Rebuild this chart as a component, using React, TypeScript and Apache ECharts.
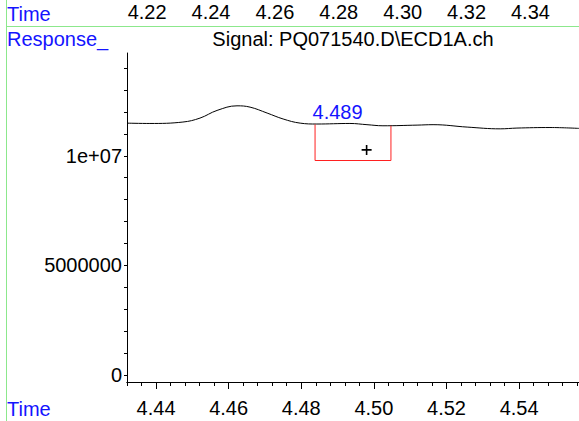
import React, { useEffect, useRef } from 'react';
import * as echarts from 'echarts';

// Signal trace (time in min, response)
const timeValues = [4.432, 4.4383, 4.4474, 4.4521, 4.4568, 4.4623, 4.4659, 4.4706, 4.475, 4.4797, 4.4843, 4.4934, 4.4981, 4.5025, 4.5119, 4.5163, 4.5257, 4.5348, 4.5394, 4.5485, 4.5565];
const responseValues = [11.49e6, 11.475e6, 11.54e6, 11.72e6, 12.07e6, 12.28e6, 12.22e6, 11.95e6, 11.68e6, 11.49e6, 11.45e6, 11.475e6, 11.42e6, 11.37e6, 11.4e6, 11.42e6, 11.31e6, 11.23e6, 11.265e6, 11.29e6, 11.25e6];

// Integration bracket (red)
const bracketTimes = [4.4838, 4.4838, 4.5047, 4.5047];
const bracketValues = [11.43e6, 9.785e6, 9.785e6, 11.37e6];

// Peak annotation
const peakLabelTime = [4.49];
const peakLabelValue = [11.99e6];
const peakLabelText = ['4.489'];
const crossTime = [4.498];
const crossValue = [10.27e6];

// Axes
const bottomTickValues = [4.44, 4.46, 4.48, 4.5, 4.52, 4.54];
const bottomTickLabels = ['4.44', '4.46', '4.48', '4.50', '4.52', '4.54'];
const topTickValues = [4.22, 4.24, 4.26, 4.28, 4.3, 4.32, 4.34];
const topTickLabels = ['4.22', '4.24', '4.26', '4.28', '4.30', '4.32', '4.34'];
const yTickValues = [0, 5e6, 1e7];
const yTickLabels = ['0', '5000000', '1e+07'];

const FONT = 'Liberation Sans, Arial, Helvetica, sans-serif';
const BLUE = '#1414ff';
const GREEN = '#8ce88c';

export default function App() {
  const ref = useRef<HTMLDivElement>(null);
  useEffect(() => {
    if (!ref.current) return;
    const chart = echarts.init(ref.current, undefined, { renderer: 'svg' });

    const xMin = 4.432;
    const xMax = 4.5565;
    const minorTicks: number[] = [];
    for (let i = 0; i <= 31; i++) minorTicks.push(+(4.432 + i * 0.004).toFixed(3));
    const yMinor: number[] = [];
    for (let i = 0; i <= 14; i++) yMinor.push(i * 1e6);

    const fmt = (list: number[], labels: string[]) => (v: number) => {
      const idx = list.findIndex((t) => Math.abs(t - v) < 1e-6 * Math.max(1, Math.abs(t)));
      return idx >= 0 ? labels[idx] : '';
    };

    chart.setOption({
      animation: false,
      textStyle: { fontFamily: FONT },
      grid: { left: 127, right: 0, top: 53, bottom: 39, containLabel: false, outerBoundsMode: 'none' },
      xAxis: [
        {
          type: 'value', min: xMin, max: xMax, position: 'bottom',
          axisLine: { show: true, onZero: false, lineStyle: { color: '#000', width: 1 } },
          axisTick: { show: true, length: 7, customValues: bottomTickValues, lineStyle: { color: '#000' } },
          axisLabel: { customValues: bottomTickValues, formatter: fmt(bottomTickValues, bottomTickLabels), fontSize: 20, color: '#000', margin: 16, fontFamily: FONT },
          splitLine: { show: false },
        },
        {
          type: 'value', min: xMin, max: xMax, position: 'bottom',
          axisLine: { show: true, onZero: false, lineStyle: { color: '#000', width: 1 } },
          axisTick: { show: true, length: 4, customValues: minorTicks, lineStyle: { color: '#000' } },
          axisLabel: { show: false },
          splitLine: { show: false },
        },
        {
          type: 'value', min: 4.2137, max: 4.3552, position: 'top', offset: 23,
          axisLine: { show: false },
          axisTick: { show: false },
          axisLabel: { customValues: topTickValues, formatter: fmt(topTickValues, topTickLabels), fontSize: 20, color: '#000', margin: 8, fontFamily: FONT },
          splitLine: { show: false },
        },
      ],
      yAxis: {
        type: 'value', min: -0.32e6, max: 14.69e6,
        axisLine: { show: true, onZero: false, lineStyle: { color: '#000', width: 1 } },
        axisTick: { show: true, length: 3, customValues: yMinor, lineStyle: { color: '#000' } },
        axisLabel: { customValues: yTickValues, formatter: fmt(yTickValues, yTickLabels), fontSize: 20, color: '#000', margin: 5, fontFamily: FONT },
        splitLine: { show: false },
      },
      series: [
        {
          type: 'line', xAxisIndex: 0, smooth: 0.4, symbol: 'none',
          lineStyle: { color: '#000', width: 1 },
          data: timeValues.map((t, i) => [t, responseValues[i]]),
        },
        {
          type: 'line', xAxisIndex: 0, symbol: 'none',
          lineStyle: { color: '#ff2020', width: 1 },
          data: bracketTimes.map((t, i) => [t, bracketValues[i]]),
        },
        {
          type: 'scatter', xAxisIndex: 0,
          symbol: 'path://M4.2,0h1.6v4.2h4.2v1.6h-4.2v4.2h-1.6v-4.2h-4.2v-1.6h4.2z',
          symbolSize: 10,
          itemStyle: { color: '#000', opacity: 1 },
          data: crossTime.map((t, i) => [t, crossValue[i]]),
        },
        {
          type: 'scatter', xAxisIndex: 0, symbolSize: 1,
          itemStyle: { color: 'rgba(0,0,0,0)', opacity: 1 },
          label: {
            show: true, position: 'inside', fontSize: 20, color: BLUE, fontFamily: FONT, opacity: 1,
            formatter: (p: any) => peakLabelText[p.dataIndex],
          },
          data: peakLabelTime.map((t, i) => [t, peakLabelValue[i]]),
        },
      ],
      graphic: [
        { type: 'line', shape: { x1: 6.5, y1: 0, x2: 6.5, y2: 421 }, style: { stroke: GREEN, lineWidth: 1 }, silent: true },
        { type: 'line', shape: { x1: 6, y1: 26.5, x2: 579, y2: 26.5 }, style: { stroke: GREEN, lineWidth: 1 }, silent: true },
        { type: 'text', x: 7, y: 14, style: { text: 'Time', fontSize: 20, fill: BLUE, fontFamily: FONT, verticalAlign: 'middle', align: 'left' } },
        { type: 'text', x: 7, y: 39, style: { text: 'Response_', fontSize: 20, fill: BLUE, fontFamily: FONT, verticalAlign: 'middle', align: 'left' } },
        { type: 'text', x: 353, y: 38.5, style: { text: 'Signal: PQ071540.D\\ECD1A.ch', fontSize: 20, fill: '#000', fontFamily: FONT, verticalAlign: 'middle', align: 'center' } },
        { type: 'text', x: 7, y: 409, style: { text: 'Time', fontSize: 20, fill: BLUE, fontFamily: FONT, verticalAlign: 'middle', align: 'left' } },
      ],
    });
    return () => chart.dispose();
  }, []);
  return <div ref={ref} style={{ position: 'fixed', left: 0, top: 0, width: 579, height: 421, background: '#fff' }} />;
}
